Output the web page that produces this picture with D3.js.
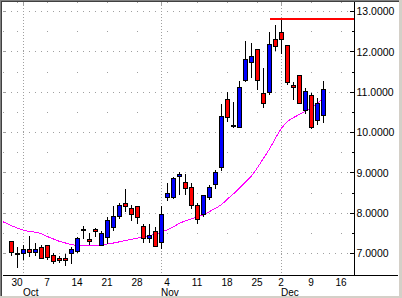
<!DOCTYPE html>
<html>
<head>
<meta charset="utf-8">
<script src="https://cdn.jsdelivr.net/npm/d3@7"></script>
<style>
body { margin: 0; background: #fff; }
svg { display: block; font-family: "Liberation Sans", Arial, sans-serif; }
</style>
</head>
<body>
<div id="chart"></div>
<script>
const width = 402;
const height = 298;

// trading days shown as candles
const dates = [
    "2002-09-27", "2002-09-30", "2002-10-01", "2002-10-02", "2002-10-03", "2002-10-04",
    "2002-10-07", "2002-10-08", "2002-10-09", "2002-10-10", "2002-10-11",
    "2002-10-14", "2002-10-15", "2002-10-16", "2002-10-17", "2002-10-18",
    "2002-10-21", "2002-10-22", "2002-10-23", "2002-10-24", "2002-10-25",
    "2002-10-28", "2002-10-29", "2002-10-30", "2002-10-31", "2002-11-01",
    "2002-11-04", "2002-11-05", "2002-11-06", "2002-11-07", "2002-11-08",
    "2002-11-11", "2002-11-12", "2002-11-13", "2002-11-14", "2002-11-15",
    "2002-11-18", "2002-11-19", "2002-11-20", "2002-11-21", "2002-11-22",
    "2002-11-25", "2002-11-26", "2002-11-27", "2002-11-29",
    "2002-12-02", "2002-12-03", "2002-12-04", "2002-12-05", "2002-12-06",
    "2002-12-09", "2002-12-10", "2002-12-11"
];
// empty sessions after the last candle, still on the time axis
const futureDates = ["2002-12-12", "2002-12-13", "2002-12-16", "2002-12-17", "2002-12-18"];

const open = [
    7.30, 7.02, 7.02, 7.12, 7.03, 7.17, 7.20, 6.97, 6.90, 6.88, 7.02,
    7.05, 7.60, 7.37, 7.60, 7.23, 7.39, 7.66, 7.93, 8.24, 8.12,
    8.19, 7.67, 7.37, 7.57, 7.30, 8.39, 8.41, 8.92, 8.78, 8.64,
    8.21, 7.97, 8.39, 8.74, 9.13, 10.82, 10.19, 10.14, 11.28, 11.73,
    12.06, 10.99, 10.99, 12.31, 12.50, 12.16, 11.17, 11.43, 10.55,
    10.92, 10.30, 10.45
];
const high = [
    7.30, 7.16, 7.22, 7.43, 7.26, 7.22, 7.20, 7.02, 6.93, 7.00, 7.15,
    7.40, 7.67, 7.50, 7.64, 7.57, 7.91, 8.17, 8.24, 8.59, 8.21,
    8.19, 7.74, 7.72, 7.66, 8.17, 8.74, 8.90, 9.01, 8.98, 8.74,
    8.24, 8.46, 8.71, 9.07, 10.70, 11.01, 10.76, 11.27, 12.26, 12.21,
    12.06, 11.61, 12.49, 12.67, 12.83, 12.16, 11.25, 11.43, 11.10,
    10.97, 10.85, 11.28
];
const low = [
    6.94, 6.65, 6.85, 6.92, 6.93, 6.88, 6.83, 6.75, 6.77, 6.70, 6.73,
    7.02, 7.37, 7.21, 7.41, 7.18, 7.23, 7.56, 7.85, 8.03, 7.81,
    7.74, 7.25, 7.25, 7.17, 7.11, 8.30, 8.34, 8.44, 8.46, 8.11,
    7.74, 7.91, 8.32, 8.59, 9.05, 10.25, 10.10, 10.11, 11.25, 11.36,
    11.06, 10.60, 10.93, 12.01, 11.95, 11.17, 10.81, 10.70, 10.45,
    10.09, 10.19, 10.23
];
const close = [
    7.02, 7.02, 7.12, 7.05, 7.11, 6.90, 6.90, 6.83, 6.86, 6.82, 7.12,
    7.38, 7.60, 7.32, 7.54, 7.52, 7.82, 7.94, 8.21, 8.16, 7.97,
    7.92, 7.37, 7.45, 7.20, 7.99, 8.49, 8.88, 8.98, 8.63, 8.19,
    7.87, 8.44, 8.64, 9.03, 10.40, 10.37, 10.19, 11.14, 11.81, 11.89,
    11.29, 10.74, 12.19, 12.13, 12.33, 11.25, 11.12, 10.74, 11.02,
    10.12, 10.73, 11.09
];

// moving average, starting two sessions before the first candle
const maOffset = -2;
const movingAvg = [
    7.82, 7.76, 7.69, 7.63, 7.58, 7.54, 7.53, 7.49, 7.42, 7.36, 7.30,
    7.26, 7.22, 7.20, 7.20, 7.20, 7.20, 7.20, 7.24, 7.26, 7.29, 7.32,
    7.35, 7.38, 7.41, 7.44, 7.48, 7.53, 7.59, 7.66, 7.75, 7.81, 7.86,
    7.91, 7.96, 8.04, 8.12, 8.21, 8.35, 8.48, 8.62, 8.77, 8.92, 9.13,
    9.36, 9.59, 9.86, 10.11, 10.28, 10.37, 10.45, 10.53, 10.62, 10.73, 10.85
];

// horizontal high line
const resistanceLevel = 12.81;
const resistanceFrom = "2002-11-27";

const yTicks = [7, 8, 9, 10, 11, 12, 13];
const yMinor = [7.5, 8.5, 9.5, 10.5, 11.5, 12.5];
const weekDates = ["2002-09-30", "2002-10-07", "2002-10-14", "2002-10-21", "2002-10-28",
    "2002-11-04", "2002-11-11", "2002-11-18", "2002-11-25", "2002-12-02", "2002-12-09", "2002-12-16"];
const weekLabels = ["30", "7", "14", "21", "28", "4", "11", "18", "25", "2", "9", "16"];
const monthDates = ["2002-10-01", "2002-11-01", "2002-12-02"];
const monthLabels = ["Oct", "Nov", "Dec"];

const allDays = dates.concat(futureDates);
const dayIndex = d => allDays.indexOf(d);

const plotLeft = 3, plotTop = 2, axisX = 354.5, axisY = 275.5;
const gridColor = "#a0a0a0";

const svg = d3.select("#chart")
    .append("svg")
    .attr("width", width)
    .attr("height", height);

const x = d3.scaleLinear().domain([0, 52]).range([11.5, 323.5]);
const y = d3.scaleLinear().domain([7, 13]).range([253.5, 11.5]);

svg.append("defs").append("clipPath").attr("id", "plot")
    .append("rect")
    .attr("x", plotLeft).attr("y", plotTop)
    .attr("width", axisX - plotLeft).attr("height", axisY - plotTop);

const grid = svg.append("g").attr("shape-rendering", "crispEdges");

// major grid: dots on every session
const sessions = d3.range(0, 57);
yTicks.forEach(v => {
    grid.selectAll(null)
        .data(sessions)
        .enter()
        .append("rect")
        .attr("x", i => x(i) - 0.5)
        .attr("y", y(v) - 0.5)
        .attr("width", 1).attr("height", 1)
        .attr("fill", gridColor);
    grid.append("rect").attr("x", plotLeft).attr("y", y(v) - 0.5)
        .attr("width", 3).attr("height", 1).attr("fill", gridColor);
    grid.append("rect").attr("x", axisX - 4.5).attr("y", y(v) - 0.5)
        .attr("width", 4).attr("height", 1).attr("fill", "#000");
});

// minor grid: dots on week starts
const weekIdx = weekDates.map(dayIndex);
yMinor.forEach(v => {
    grid.selectAll(null)
        .data(weekIdx)
        .enter()
        .append("rect")
        .attr("x", i => x(i) - 0.5)
        .attr("y", y(v) - 0.5)
        .attr("width", 1).attr("height", 1)
        .attr("fill", gridColor);
    grid.append("rect").attr("x", plotLeft).attr("y", y(v) - 0.5)
        .attr("width", 1).attr("height", 1).attr("fill", gridColor);
    grid.append("rect").attr("x", axisX - 2.5).attr("y", y(v) - 0.5)
        .attr("width", 2).attr("height", 1).attr("fill", "#000");
});

// top ticks
grid.selectAll(null)
    .data(weekIdx)
    .enter()
    .append("rect")
    .attr("x", i => x(i) - 0.5).attr("y", plotTop)
    .attr("width", 1).attr("height", 1)
    .attr("fill", gridColor);

// month separators
const monthIdx = monthDates.map(dayIndex);
grid.selectAll(null)
    .data(monthIdx)
    .enter()
    .append("line")
    .attr("x1", i => x(i)).attr("x2", i => x(i))
    .attr("y1", plotTop).attr("y2", axisY - 0.5)
    .attr("stroke", gridColor)
    .attr("stroke-dasharray", "1,2");
grid.selectAll(null)
    .data(monthIdx)
    .enter()
    .append("rect")
    .attr("x", i => x(i) - 0.5).attr("y", plotTop)
    .attr("width", 1).attr("height", 4)
    .attr("fill", gridColor);

const plot = svg.append("g").attr("clip-path", "url(#plot)");

// moving average
const maLine = d3.line()
    .x((d, k) => x(k + maOffset))
    .y(d => y(d));

plot.append("path")
    .datum(movingAvg)
    .attr("d", maLine)
    .attr("fill", "none")
    .attr("stroke", "#ff00ff")
    .attr("stroke-width", 1)
    .attr("shape-rendering", "crispEdges");

// candles
const candles = dates.map((d, i) => ({ i, o: open[i], h: high[i], l: low[i], c: close[i] }));

const cg = plot.append("g").attr("shape-rendering", "crispEdges");

cg.selectAll("line.wick")
    .data(candles)
    .enter()
    .append("line")
    .attr("class", "wick")
    .attr("x1", d => x(d.i)).attr("x2", d => x(d.i))
    .attr("y1", d => y(d.h)).attr("y2", d => y(d.l))
    .attr("stroke", "#000");

cg.selectAll("rect.body")
    .data(candles)
    .enter()
    .append("rect")
    .attr("class", "body")
    .attr("x", d => x(d.i) - 2)
    .attr("y", d => Math.round(y(Math.max(d.o, d.c))) + 0.5)
    .attr("width", 4)
    .attr("height", d => Math.max(1, Math.round(Math.abs(y(d.o) - y(d.c)))))
    .attr("fill", d => d.c > d.o ? "#0000ff" : d.c < d.o ? "#ff0000" : "#000")
    .attr("stroke", "#000");

// high line
svg.append("line")
    .attr("x1", x(dayIndex(resistanceFrom))).attr("x2", axisX)
    .attr("y1", y(resistanceLevel)).attr("y2", y(resistanceLevel))
    .attr("stroke", "#ff0000")
    .attr("stroke-width", 2)
    .attr("shape-rendering", "crispEdges");

// axes
const axes = svg.append("g").attr("shape-rendering", "crispEdges");
axes.append("line")
    .attr("x1", axisX).attr("x2", axisX)
    .attr("y1", plotTop).attr("y2", axisY)
    .attr("stroke", "#000");
axes.append("line")
    .attr("x1", plotLeft).attr("x2", 398)
    .attr("y1", axisY).attr("y2", axisY)
    .attr("stroke", "#000");

const yAxis = d3.axisRight(y)
    .tickValues(yTicks)
    .tickFormat(d3.format(".4f"))
    .tickSize(0)
    .tickPadding(2);

svg.append("g")
    .attr("transform", `translate(${axisX},0)`)
    .call(yAxis)
    .call(g => g.select(".domain").remove())
    .call(g => g.selectAll("text")
        .attr("font-family", "'Liberation Sans', Arial, sans-serif")
        .attr("font-size", "10.5px")
        .attr("fill", "#000"));

const xAxis = d3.axisBottom(x)
    .tickValues(weekIdx)
    .tickFormat((d, k) => weekLabels[k])
    .tickSize(0)
    .tickPadding(0);

svg.append("g")
    .attr("transform", `translate(-1,${axisY})`)
    .call(xAxis)
    .call(g => g.select(".domain").remove())
    .call(g => g.selectAll("text")
        .attr("y", 10.5)
        .attr("dy", null)
        .attr("font-family", "'Liberation Sans', Arial, sans-serif")
        .attr("font-size", "10px")
        .attr("fill", "#000"));

svg.selectAll("text.month")
    .data(monthIdx)
    .enter()
    .append("text")
    .attr("class", "month")
    .attr("x", i => x(i) - 0.5)
    .attr("y", 295.5)
    .attr("font-size", "10px")
    .attr("fill", "#000")
    .text((d, k) => monthLabels[k]);

// window frame
const frame = svg.append("g").attr("shape-rendering", "crispEdges");
frame.append("rect").attr("x", 0).attr("y", 0).attr("width", width).attr("height", 1).attr("fill", "#808080");
frame.append("rect").attr("x", 0).attr("y", 0).attr("width", 1).attr("height", height).attr("fill", "#808080");
frame.append("rect").attr("x", 1).attr("y", 1).attr("width", width - 2).attr("height", 1).attr("fill", "#404040");
frame.append("rect").attr("x", 1).attr("y", 1).attr("width", 1).attr("height", height - 2).attr("fill", "#404040");
frame.append("rect").attr("x", 399).attr("y", 0).attr("width", 3).attr("height", height).attr("fill", "#d4d0c8");
frame.append("rect").attr("x", 0).attr("y", 296).attr("width", width).attr("height", 2).attr("fill", "#d4d0c8");
</script>
</body>
</html>
